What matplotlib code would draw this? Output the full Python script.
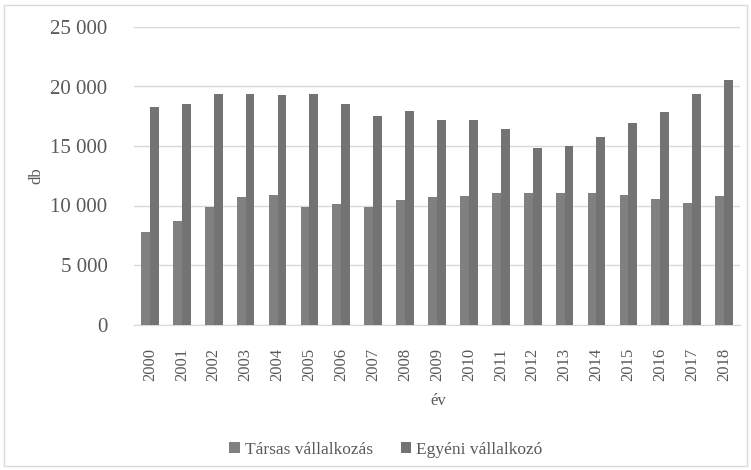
import matplotlib.pyplot as plt
import matplotlib.ticker as mticker
import numpy as np
from matplotlib.patches import Rectangle

years = [str(y) for y in range(2000, 2019)]
tarsas = [7750, 8670, 9870, 10690, 10910, 9870, 10100, 9870, 10430, 10690,
          10800, 11020, 11020, 11020, 11020, 10910, 10570, 10210, 10800]
egyeni = [18300, 18550, 19370, 19370, 19260, 19370, 18550, 17490, 17970, 17160,
          17160, 16460, 14800, 15030, 15730, 16900, 17830, 19370, 20550]
series_names = ['Társas vállalkozás', 'Egyéni vállalkozó']

plt.rcParams['font.family'] = ['Liberation Serif', 'DejaVu Serif']

fig = plt.figure(figsize=(7.51, 4.70), dpi=100)
ax = fig.add_axes([134 / 751, 1 - 324.5 / 470, 606 / 751, 297.5 / 470])

# keret a diagram körül
fig.patches.append(Rectangle((4 / 751, 4 / 470), 743 / 751, 461 / 470,
                             transform=fig.transFigure, fill=False,
                             edgecolor='#d9d9d9', linewidth=1))

x = np.arange(len(years))
w = 0.277
ax.bar(x - w / 2, tarsas, w, color='#808080', label=series_names[0], zorder=3)
ax.bar(x + w / 2, egyeni, w, color='#737373', label=series_names[1], zorder=3)

ax.set_xlim(-0.5, len(years) - 0.5)
ax.set_ylim(0, 25000)
ax.set_yticks(range(0, 25001, 5000))
ax.yaxis.set_major_formatter(mticker.FuncFormatter(lambda v, p: f'{int(v):,}'.replace(',', ' ')))
ax.set_xticks(x)
ax.set_xticklabels(years, rotation=90)

ax.grid(True, axis='y', color='#d9d9d9', linewidth=1, zorder=0)
for s in ['top', 'right', 'left']:
    ax.spines[s].set_visible(False)
ax.spines['bottom'].set_color('#d9d9d9')
ax.tick_params(axis='y', length=0, pad=19, labelsize=15, labelcolor='#595959')
ax.tick_params(axis='x', length=0, pad=17, labelsize=12, labelcolor='#595959')

fig.text(36 / 751, 1 - 176 / 470, 'db', rotation=90, ha='center', va='center',
         fontsize=12, color='#595959')
fig.text(438 / 751, 1 - 401 / 470, 'év', ha='center', va='center',
         fontsize=12, color='#595959')

leg = fig.legend(loc='center', bbox_to_anchor=(386 / 751, 1 - 450 / 470), ncol=2,
                 frameon=False, fontsize=12.5, handlelength=0.6, handleheight=0.6,
                 handletextpad=0.3, columnspacing=1.6)
for t in leg.get_texts():
    t.set_color('#595959')

fig.savefig('out.png', dpi=100)
